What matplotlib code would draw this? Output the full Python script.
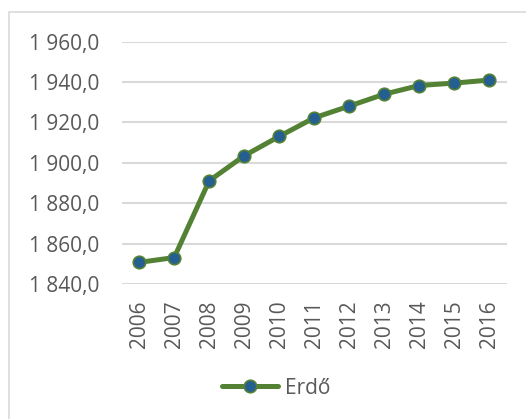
import matplotlib.pyplot as plt
from matplotlib.patches import Rectangle
from matplotlib.ticker import FuncFormatter

# data
years = ['2006', '2007', '2008', '2009', '2010', '2011',
         '2012', '2013', '2014', '2015', '2016']
erdo = [1850.7, 1853.1, 1891.1, 1903.5, 1913.1, 1922.3,
        1928.1, 1934.0, 1938.3, 1939.5, 1941.0]
yticks = [1840, 1860, 1880, 1900, 1920, 1940, 1960]

plt.rcParams['font.family'] = ['Open Sans', 'DejaVu Sans']
txt_col = '#595959'

fig = plt.figure(figsize=(5.26, 4.19), dpi=100)
ax = fig.add_axes([121.7 / 526, 1 - 284 / 419, 385 / 526, (284 - 41.7) / 419])

x = range(len(years))
ax.plot(x, erdo, color='#548235', lw=3.6, marker='o', ms=9,
        mfc='#255E91', mec='#548235', mew=1.2, label='Erdő',
        solid_capstyle='round', zorder=3)

ax.set_xlim(-0.5, len(years) - 0.5)
ax.set_ylim(1840, 1960)
ax.set_yticks(yticks)
ax.yaxis.set_major_formatter(FuncFormatter(
    lambda v, p: '{:,.1f}'.format(v).replace(',', ' ').replace('.', ',')))
ax.set_xticks(list(x))
ax.set_xticklabels(years, rotation=90)

ax.grid(axis='y', color='#d9d9d9', lw=1.5)
ax.set_axisbelow(True)
for s in ax.spines.values():
    s.set_visible(False)
ax.tick_params(length=0, labelsize=15, colors=txt_col)
ax.tick_params(axis='y', pad=16)
ax.tick_params(axis='x', pad=12)

leg = fig.legend(loc='center', bbox_to_anchor=(276 / 526, 1 - 388 / 419),
                 frameon=False, fontsize=15, handlelength=2.7,
                 handletextpad=0.3)
for t in leg.get_texts():
    t.set_color(txt_col)

# chart area border
fig.patches.append(Rectangle((9.5 / 526, -0.1), 1.2, 1.1 - 12.5 / 419,
                             transform=fig.transFigure, fill=False,
                             ec='#d9d9d9', lw=1.2))

fig.savefig('out.png', dpi=100)
